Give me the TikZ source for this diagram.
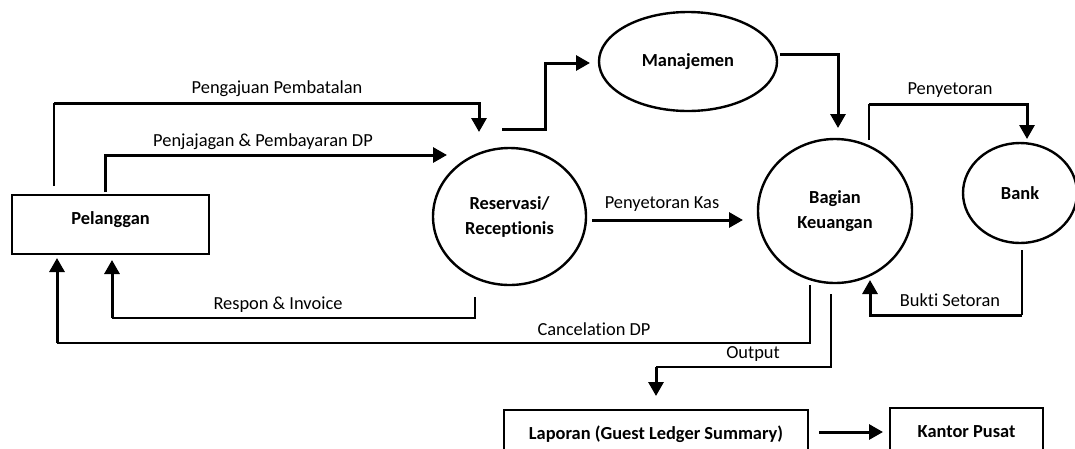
\documentclass[tikz,border=0pt]{standalone}
\usepackage{fontspec}
\setmainfont{Carlito}[Ligatures=NoCommon]
\usetikzlibrary{arrows.meta,positioning,calc,shapes.geometric}

\begin{document}
\fontsize{18.4pt}{25pt}\selectfont
\begin{tikzpicture}[x=1pt, y=-1pt,
  process/.style={ellipse, draw, line width=2.4pt, inner sep=0pt, outer sep=0pt, font=\bfseries, align=center},
  entity/.style={rectangle, draw, line width=2.8pt, inner sep=0pt, outer sep=0pt, text height=29pt, text depth=30pt, font=\bfseries, anchor=north},
  flow/.style={inner sep=0pt},
  arr/.style={-{Triangle[length=14pt, width=15pt]}, line width=3pt},
  thinflow/.style={line width=1.6pt}
]
  \useasboundingbox (0,0) rectangle (1075,448);
  \clip (0,0) rectangle (1075,448);
  \node[entity, minimum width=197pt] (pel) at (110.5,195) {Pelanggan};
  \node[process, minimum width=153pt, minimum height=137pt] (resv) at (509.5,216.5) {Reservasi/\\Receptionis};
  \node[process, minimum width=178pt, minimum height=99pt] (manj) at (688,61.5) {Manajemen};
  \node[process, minimum width=154pt, minimum height=144pt] (keu) at (835,211) {Bagian\\Keuangan};
  \node[process, minimum width=114pt, minimum height=100pt] (bank) at (1020,193) {Bank};
  \node[entity, minimum width=304pt] (lap) at (656,410) {Laporan (Guest Ledger Summary)};
  \node[entity, minimum width=153pt] (kan) at (966.5,408) {Kantor Pusat};
  % corners
  \coordinate (c-aju) at (54,103);
  \coordinate (c-setor) at (869,104);
  \coordinate (c-bukti) at (1022,315);
  \coordinate (c-respon) at (112,318);
  \coordinate (c-cancel) at (57,343);
  \coordinate (c-output) at (656,367);
  % flows
  \draw[thinflow] ($(pel.north)+(-56.5,-9)$) -- (c-aju);
  \draw[arr] (c-aju) -| ($(resv.north)+(-30.5,-16)$);
  \draw[arr] ($(pel.north)+(-5.5,-3)$) |- ($(resv.center)+(-62.5,-61.5)$);
  \draw[arr] ($(resv.north)+(-7.5,-19)$) -- ++(43,0) |- ($(manj.west)+(-9,1.5)$);
  \draw[arr] ($(manj.east)+(3,-7.5)$) -| ($(keu.north)+(3,-11)$);
  \draw[thinflow] ($(keu.north)+(34,1)$) -- (c-setor);
  \draw[arr] (c-setor) -| ($(bank.north)+(7,-4)$);
  \draw[thinflow] ($(bank.south)+(2,7)$) -- (c-bukti);
  \draw[arr] (c-bukti) -| ($(keu.south)+(35,-3)$);
  \draw[arr] ($(resv.east)+(6,3.5)$) -- ($(keu.west)+(-15,9)$);
  \draw[thinflow] ($(resv.south)+(-34.5,12)$) |- (c-respon);
  \draw[arr] (c-respon) -- ($(pel.south)+(1.5,6)$);
  \draw[thinflow] ($(keu.south)+(-25,2)$) |- (c-cancel);
  \draw[arr] (c-cancel) -- ($(pel.south)+(-53.5,4)$);
  \draw[thinflow] ($(keu.south)+(-4,11)$) |- (c-output);
  \draw[arr] (c-output) -- ($(lap.north)+(0,-14)$);
  \draw[arr] ($(lap.east)+(11,-7.5)$) -- ($(kan.west)+(-7,-5.5)$);
  % labels
  \node[flow] (l-aju) at (277,89) {Pengajuan Pembatalan};
  \node[flow] (l-jajag) at (263,142) {Penjajagan \& Pembayaran DP};
  \node[flow] (l-kas) at (662,204) {Penyetoran Kas};
  \node[flow] (l-setor) at (950,90) {Penyetoran};
  \node[flow] (l-bukti) at (950,300) {Bukti Setoran};
  \node[flow] (l-respon) at (278,305) {Respon \& Invoice};
  \node[flow] (l-cancel) at (594,329) {Cancelation DP};
  \node[flow] (l-output) at (753,354) {Output};
\end{tikzpicture}
\end{document}
